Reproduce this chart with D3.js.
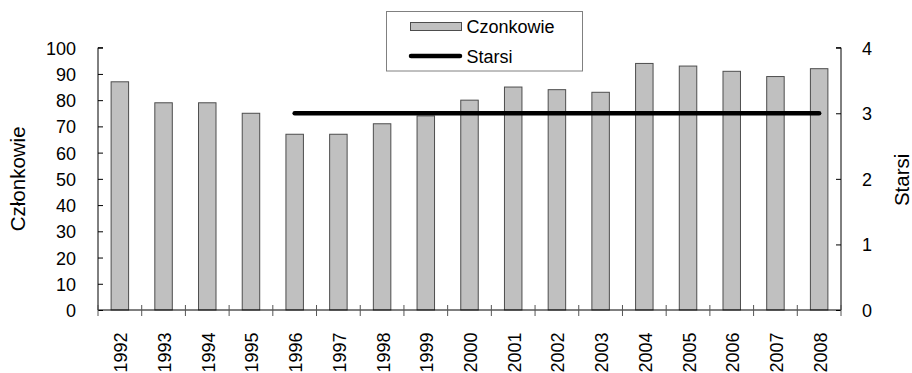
<!DOCTYPE html>
<html><head><meta charset="utf-8">
<script src="https://cdn.jsdelivr.net/npm/d3@7"></script>
<style>body{margin:0;background:#fff}svg{display:block}text{font-family:"Liberation Sans",Arial,sans-serif;fill:#000}</style>
</head><body><svg id="c" width="912" height="373"></svg>
<script>
const years = ["1992","1993","1994","1995","1996","1997","1998","1999","2000","2001","2002","2003","2004","2005","2006","2007","2008"];
const czlonkowie = [87,79,79,75,67,67,71,74,80,85,84,83,94,93,91,89,92];
const starsi = [null,null,null,null,3,3,3,3,3,3,3,3,3,3,3,3,3];
const leftTicks = [0,10,20,30,40,50,60,70,80,90,100];
const rightTicks = [0,1,2,3,4];
const seriesNames = ["Czonkowie","Starsi"];
const axisTitles = ["Członkowie","Starsi"];

const svg = d3.select("#c");
const L = 98, R = 841, T = 47.7, B = 310;
const FS = 18;
const x = d3.scaleBand().domain(years).range([L,R]).paddingInner(0.6).paddingOuter(0.3);
const xb = d3.scaleLinear().domain([0, years.length]).range([L,R]);
const yL = d3.scaleLinear().domain([0,100]).range([B,T]);
const yR = d3.scaleLinear().domain([0,4]).range([B,T]);

// bars
svg.append("g").selectAll("rect").data(czlonkowie).join("rect")
  .attr("x",(d,i)=>x(years[i])).attr("width",x.bandwidth())
  .attr("y",d=>yL(d)).attr("height",d=>B-yL(d))
  .attr("fill","#c0c0c0").attr("stroke","#4d4d4d").attr("stroke-width",1);

// left axis
const gl = svg.append("g").attr("transform",`translate(${L},0)`)
  .call(d3.axisRight(yL).tickValues(leftTicks).tickSize(5).tickFormat(d3.format("d")));
gl.select(".domain").attr("stroke","#000").attr("d",`M5,${T}H0V${B}`);
gl.selectAll(".tick line").attr("stroke","#000");
gl.selectAll(".tick text").attr("x",-22).attr("text-anchor","end").attr("font-size",FS).attr("dy","0.36em");

// right axis
const gr = svg.append("g").attr("transform",`translate(${R},0)`)
  .call(d3.axisLeft(yR).tickValues(rightTicks).tickSize(5).tickFormat(d3.format("d")));
gr.select(".domain").attr("stroke","#000").attr("d",`M-5,${T}H0V${B}`);
gr.selectAll(".tick line").attr("stroke","#000");
gr.selectAll(".tick text").attr("x",21).attr("text-anchor","start").attr("font-size",FS).attr("dy","0.36em");

// x axis
const gx = svg.append("g").attr("transform",`translate(0,${B})`);
gx.append("line").attr("x1",L).attr("x2",R).attr("stroke","#000");
gx.selectAll("line.tk").data(d3.range(years.length+1)).join("line").attr("class","tk")
  .attr("x1",d=>xb(d)).attr("x2",d=>xb(d)).attr("y1",-5).attr("y2",6).attr("stroke","#555");
gx.selectAll("text").data(years).join("text")
  .attr("transform",d=>`translate(${x(d)+x.bandwidth()/2+1},22.5) rotate(-90)`)
  .attr("text-anchor","end").attr("dy","0.36em").attr("font-size",FS).text(d=>d);

// line
const line = d3.line().defined(d=>d!=null).x((d,i)=>x(years[i])+x.bandwidth()/2).y(d=>yR(d));
svg.append("path").datum(starsi).attr("d",line).attr("fill","none")
  .attr("stroke","#000").attr("stroke-width",4.5).attr("stroke-linecap","round");

// axis titles
svg.append("text").attr("transform",`translate(17.5,${(T+B)/2}) rotate(-90)`)
  .attr("text-anchor","middle").attr("dy","0.36em").attr("font-size",20.5).text(axisTitles[0]);
svg.append("text").attr("transform",`translate(902,${(T+B)/2+1}) rotate(-90)`)
  .attr("text-anchor","middle").attr("dy","0.36em").attr("font-size",20.5).text(axisTitles[1]);

// legend
const lg = svg.append("g");
lg.append("rect").attr("x",386.5).attr("y",11.5).attr("width",196).attr("height",59.5)
  .attr("fill","#fff").attr("stroke","#808080");
lg.append("rect").attr("x",410.5).attr("y",22.5).attr("width",51).attr("height",8)
  .attr("fill","#c0c0c0").attr("stroke","#4d4d4d");
lg.append("line").attr("x1",411).attr("x2",460).attr("y1",56).attr("y2",56)
  .attr("stroke","#000").attr("stroke-width",4.5).attr("stroke-linecap","round");
lg.append("text").attr("x",466.5).attr("y",27).attr("dy","0.36em").attr("font-size",FS).text(seriesNames[0]);
lg.append("text").attr("x",466.5).attr("y",57).attr("dy","0.36em").attr("font-size",FS).text(seriesNames[1]);
</script></body></html>
